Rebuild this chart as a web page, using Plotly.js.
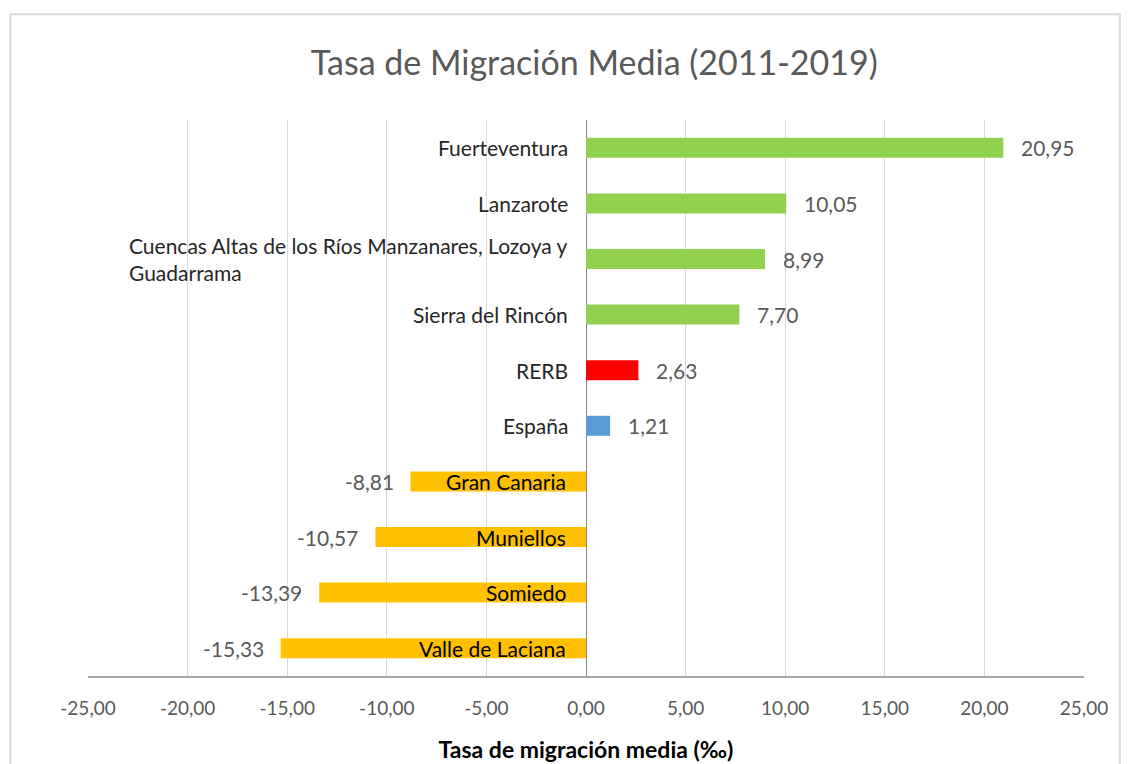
<!DOCTYPE html>
<html>
<head>
<meta charset="utf-8">
<script src="https://cdn.plot.ly/plotly-3.0.1.min.js"></script>
<style>
  body { margin: 0; background: #fff; }
  #chart { width: 1132px; height: 764px; }
</style>
</head>
<body>
<div id="chart"></div>
<script>
// areas, top to bottom as in the chart
var areas = ["Fuerteventura", "Lanzarote",
  "Cuencas Altas de los Ríos Manzanares, Lozoya y<br>Guadarrama",
  "Sierra del Rincón", "RERB", "España", "Gran Canaria", "Muniellos",
  "Somiedo", "Valle de Laciana"];
var rates = [20.95, 10.05, 8.99, 7.70, 2.63, 1.21, -8.81, -10.57, -13.39, -15.33];
var barColors = ["#92D050", "#92D050", "#92D050", "#92D050", "#FF0000",
  "#5B9BD5", "#FFC000", "#FFC000", "#FFC000", "#FFC000"];
var tickValues = [-25, -20, -15, -10, -5, 0, 5, 10, 15, 20, 25];
var tickLabels = ["-25,00", "-20,00", "-15,00", "-10,00", "-5,00", "0,00",
  "5,00", "10,00", "15,00", "20,00", "25,00"];

var font = "Lato, 'Open Sans', sans-serif";

var trace = {
  type: 'bar',
  orientation: 'h',
  y: areas,
  x: rates,
  marker: {color: barColors},
  hoverinfo: 'y+x'
};

function fmt(v) {
  return v.toFixed(2).replace('.', ',');
}

// category names next to the zero line
var labels = areas.map(function(name, i) {
  var neg = rates[i] < 0;
  return {
    x: 0, y: name, xref: 'x', yref: 'y',
    text: name, showarrow: false,
    xanchor: 'right', align: 'left',
    xshift: neg ? -18 : -16,
    font: {family: font, size: 21, color: neg ? '#000000' : '#262626'}
  };
});

// value labels at the bar ends
var values = rates.map(function(v, i) {
  return {
    x: v, y: areas[i], xref: 'x', yref: 'y',
    text: fmt(v), showarrow: false,
    xanchor: v < 0 ? 'right' : 'left',
    xshift: v < 0 ? -15 : 16,
    font: {family: font, size: 21, color: '#595959'}
  };
});

var layout = {
  width: 1132, height: 764,
  paper_bgcolor: '#ffffff', plot_bgcolor: '#ffffff',
  margin: {l: 88, r: 48, t: 120, b: 88},
  title: {
    text: 'Tasa de Migración Media (2011-2019)',
    font: {family: font, size: 34, color: '#595959'},
    x: 0.525, xanchor: 'center', y: 0.918, yanchor: 'middle'
  },
  xaxis: {
    range: [-25, 25], tickvals: tickValues, ticktext: tickLabels,
    showgrid: true, gridcolor: '#d9d9d9', gridwidth: 1,
    zeroline: true, zerolinecolor: '#868686', zerolinewidth: 1,
    showline: true, linecolor: '#a6a6a6', linewidth: 2,
    ticks: '', ticklabelstandoff: 14,
    tickfont: {family: font, size: 19, color: '#595959'},
    title: {text: '<b>Tasa de migración media (‰)</b>',
      font: {family: font, size: 23, color: '#000000'}, standoff: 24}
  },
  yaxis: {
    autorange: 'reversed', showticklabels: false, showgrid: false,
    zeroline: false, showline: false, ticks: ''
  },
  bargap: 0.64,
  showlegend: false,
  annotations: labels.concat(values),
  shapes: [{
    type: 'rect', xref: 'paper', yref: 'paper',
    x0: -0.078, x1: 1.036, y0: -0.25, y1: 1.19,
    line: {color: '#d9d9d9', width: 2}, fillcolor: 'rgba(0,0,0,0)', layer: 'below'
  }]
};

Plotly.newPlot('chart', [trace], layout, {displayModeBar: false, staticPlot: true});
</script>
</body>
</html>
